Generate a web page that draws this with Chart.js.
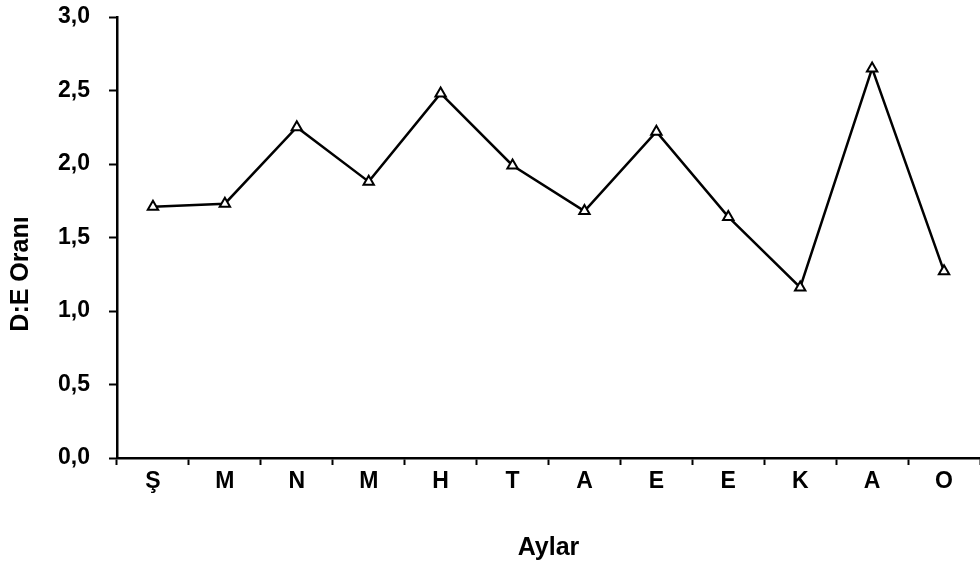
<!DOCTYPE html>
<html>
<head>
<meta charset="utf-8">
<script src="https://cdn.jsdelivr.net/npm/chart.js@4/dist/chart.umd.min.js"></script>
<style>
html,body{margin:0;padding:0;background:#fff;overflow:hidden;}
#wrap{width:980px;height:568px;position:relative;}
canvas{display:block;}
</style>
</head>
<body>
<div id="wrap"><canvas id="c"></canvas></div>
<script>
const categories = ["Ş","M","N","M","H","T","A","E","E","K","A","O"];
const deRatio = [1.71, 1.73, 2.25, 1.88, 2.48, 1.99, 1.68, 2.22, 1.64, 1.16, 2.65, 1.27];
const yTitle = "D:E Oranı";
const xTitle = "Aylar";

const FONT = "'Liberation Sans', Arial, sans-serif";

const titlesPlugin = {
  id: 'titles',
  afterDraw(chart) {
    const ctx = chart.ctx;
    const a = chart.chartArea;
    ctx.save();
    ctx.fillStyle = '#000';
    ctx.font = "bold 25px " + FONT;
    ctx.textAlign = 'center';
    ctx.textBaseline = 'middle';
    ctx.fillText(xTitle, (a.left + a.right) / 2, 548);
    ctx.translate(21, 274);
    ctx.rotate(-Math.PI / 2);
    ctx.fillText(yTitle, 0, 0);
    ctx.restore();
  }
};

new Chart(document.getElementById('c'), {
  type: 'line',
  data: {
    labels: categories,
    datasets: [{
      data: deRatio,
      borderColor: '#000',
      borderWidth: 2.5,
      tension: 0,
      pointStyle: 'triangle',
      pointRadius: 6,
      pointBackgroundColor: '#fff',
      pointBorderColor: '#000',
      pointBorderWidth: 2,
      clip: false
    }]
  },
  options: {
    responsive: true,
    maintainAspectRatio: false,
    animation: false,
    layout: { autoPadding: false, padding: { top: 17, right: 0, left: 0, bottom: 0 } },
    plugins: { legend: { display: false }, tooltip: { enabled: false } },
    scales: {
      x: {
        type: 'category',
        offset: true,
        grid: { offset: true, drawOnChartArea: false, tickLength: 7, tickColor: '#000', tickWidth: 2 },
        border: { display: true, color: '#000', width: 2.5 },
        ticks: { color: '#000', font: { family: FONT, size: 23, weight: 'bold' }, padding: 3, maxRotation: 0 },
        afterFit(s) { s.height = 110; s.paddingLeft = 0; s.paddingRight = 0; }
      },
      y: {
        min: 0, max: 3,
        ticks: {
          stepSize: 0.5,
          color: '#000',
          font: { family: FONT, size: 23, weight: 'bold' },
          padding: 19,
          callback: v => v.toFixed(1).replace('.', ',')
        },
        grid: { drawOnChartArea: false, tickLength: 8, tickColor: '#000', tickWidth: 2 },
        border: { display: true, color: '#000', width: 2.5 },
        afterFit(s) { s.width = 117; s.paddingTop = 0; s.paddingBottom = 0; }
      }
    }
  },
  plugins: [titlesPlugin]
});
</script>
</body>
</html>
